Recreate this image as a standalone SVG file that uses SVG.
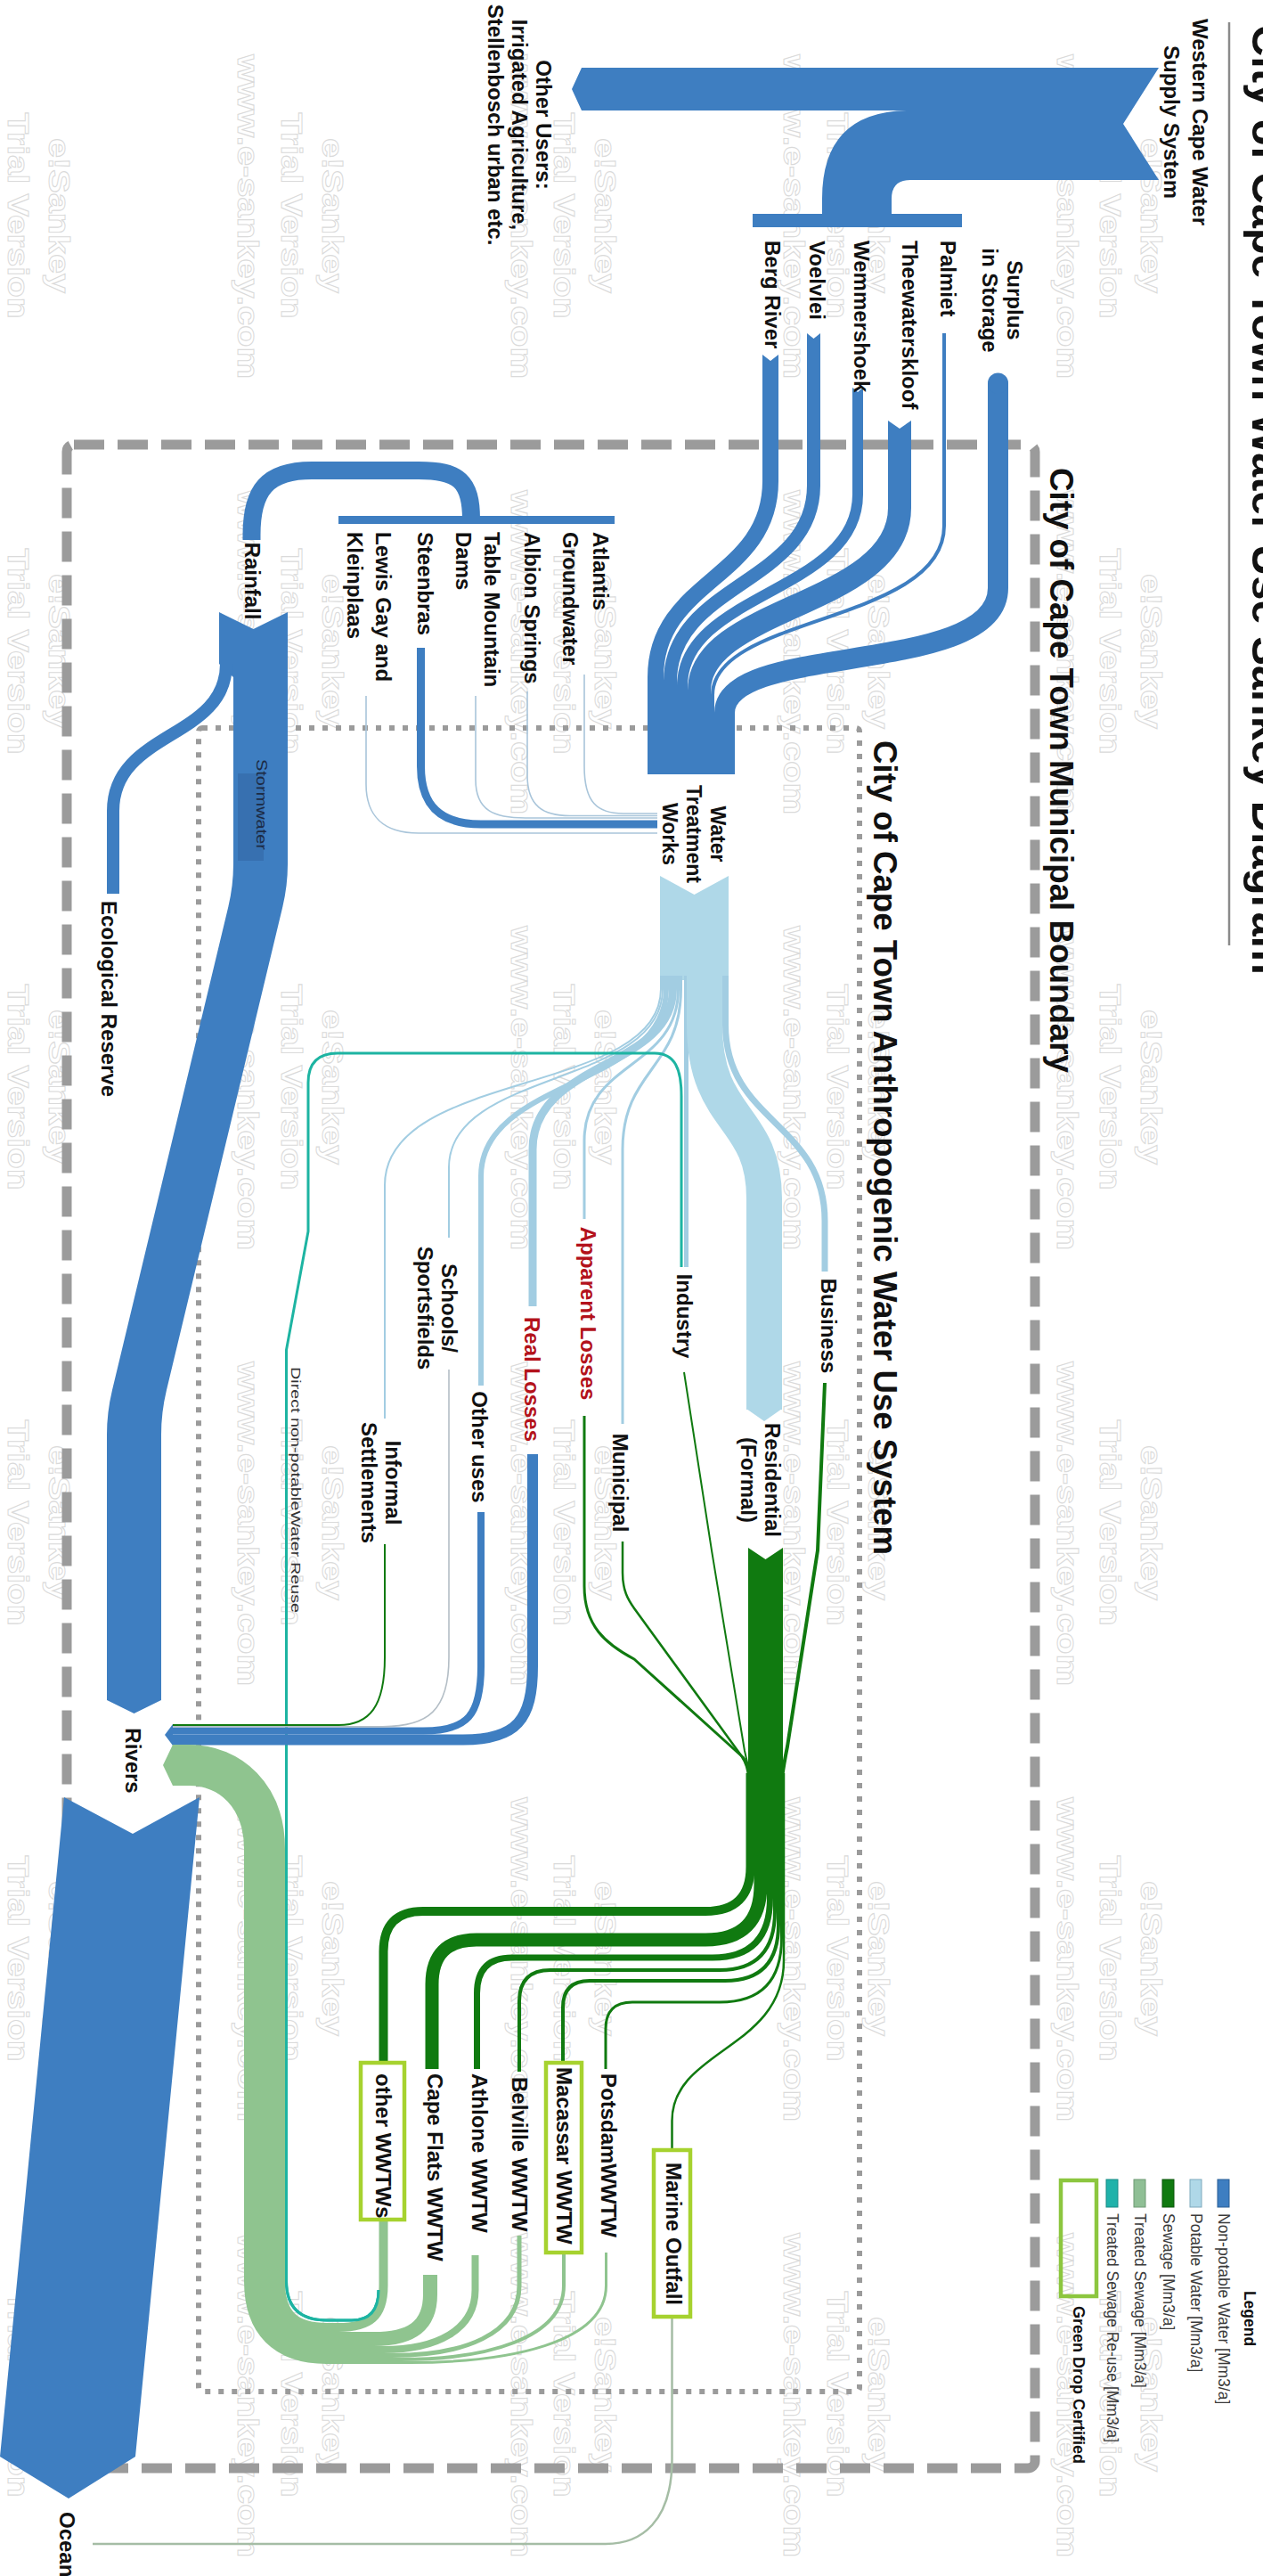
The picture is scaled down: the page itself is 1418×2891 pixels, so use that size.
<svg xmlns="http://www.w3.org/2000/svg" width="1418" height="2891" viewBox="0 0 1418 2891">
<style>
text{font-family:'Liberation Sans',Arial,Helvetica,sans-serif}
.l{font-size:24px;font-weight:bold;fill:#111}
.red{fill:#b3121b}
.wm{font-size:34px;font-weight:bold;fill:#fff;stroke:#dadada;stroke-width:1}
.f{fill:none;stroke-linecap:butt;stroke-linejoin:round}
.np{stroke:#3e7ec1}
.npf{fill:#3e7ec1}
.pot{stroke:#afd8e8}
.pt{stroke:#a2cde2}
.sew{stroke:#107a10}
.tr{stroke:#8fc48f}
.reuse{stroke:#1db4a2}
.loc{stroke:#a9c5da}
.box{fill:#fff;stroke:#a6d22f;stroke-width:4.5}
.leg{font-size:17.5px;fill:#3a3a3a}
.bnd{fill:none;stroke:#9b9b9b}
</style>
<defs>
<g id="wm">
<text class="wm" transform="translate(9 126.5) rotate(90)" textLength="231" lengthAdjust="spacingAndGlyphs">Trial Version</text>
<text class="wm" transform="translate(55 155) rotate(90)" textLength="174" lengthAdjust="spacingAndGlyphs">e!Sankey</text>
<text class="wm" transform="translate(267 61) rotate(90)" textLength="364" lengthAdjust="spacingAndGlyphs">www.e-sankey.com</text>
</g>
</defs>
<rect width="1418" height="2891" fill="#fff"/>

<!-- background watermark tiles -->
<g id="watermark">
<use href="#wm" x="0" y="0"/><use href="#wm" x="306.5" y="0"/><use href="#wm" x="613" y="0"/><use href="#wm" x="919.5" y="0"/><use href="#wm" x="1226" y="0"/>
<use href="#wm" x="0" y="489"/><use href="#wm" x="306.5" y="489"/><use href="#wm" x="613" y="489"/><use href="#wm" x="919.5" y="489"/><use href="#wm" x="1226" y="489"/>
<use href="#wm" x="0" y="978"/><use href="#wm" x="306.5" y="978"/><use href="#wm" x="613" y="978"/><use href="#wm" x="919.5" y="978"/><use href="#wm" x="1226" y="978"/>
<use href="#wm" x="0" y="1467"/><use href="#wm" x="306.5" y="1467"/><use href="#wm" x="613" y="1467"/><use href="#wm" x="919.5" y="1467"/><use href="#wm" x="1226" y="1467"/>
<use href="#wm" x="0" y="1956"/><use href="#wm" x="306.5" y="1956"/><use href="#wm" x="613" y="1956"/><use href="#wm" x="919.5" y="1956"/><use href="#wm" x="1226" y="1956"/>
<use href="#wm" x="0" y="2445"/><use href="#wm" x="306.5" y="2445"/><use href="#wm" x="613" y="2445"/><use href="#wm" x="919.5" y="2445"/><use href="#wm" x="1226" y="2445"/>
</g>

<!-- boundaries -->
<g id="boundaries">
<rect class="bnd" x="75" y="499" width="1087" height="2271" rx="8" stroke-width="11" stroke-dasharray="34 15"/>
<rect class="bnd" x="223" y="817" width="742" height="1867" rx="4" stroke-width="6" stroke-dasharray="6 9"/>
<text class="l" style="font-size:36px" transform="translate(1179 525) rotate(90)" textLength="679" lengthAdjust="spacingAndGlyphs">City of Cape Town Municipal Boundary</text>
<text class="l" style="font-size:36px" transform="translate(981 831) rotate(90)" textLength="914" lengthAdjust="spacingAndGlyphs">City of Cape Town Anthropogenic Water Use System</text>
</g>

<!-- title -->
<g id="title">
<text class="l" style="font-size:48px" transform="translate(1406 28) rotate(90)" textLength="1066" lengthAdjust="spacingAndGlyphs">City of Cape Town Water Use Sankey Diagram</text>
<line x1="1380" y1="25" x2="1380" y2="1061" stroke="#8a8a8a" stroke-width="2.5"/>
</g>

<g id="connectors">
<!-- bulk supply -->
<path class="npf" d="M1301 76 L653 76 L642 100 L653 124 L1022 124 Q923 124 923 223 L923 248 L1001 248 L1001 223 Q1001 202 1022 202 L1301 202 L1261 139 Z"/>
<!-- dams to treatment works -->
<path class="f np" stroke-width="18" d="M865 398 V540 C865 650 736 650 736 760 V869"/>
<path class="f np" stroke-width="15" d="M913.5 374 V545 C913.5 655 752.5 655 752.5 765 V869"/>
<path class="f np" stroke-width="12" d="M963 435 V555 C963 665 766 665 766 770 V869"/>
<path class="f np" stroke-width="26" d="M1010 472 V570 C1010 680 785 680 785 775 V869"/>
<path class="f np" stroke-width="4" d="M1060 374 V590 C1060 700 800 690 800 780 V869"/>
<path class="f np" stroke-width="23" d="M1120.5 430 V660 C1120.5 760 813.5 720 813.5 800 V869"/>
<circle class="npf" cx="1120.5" cy="430" r="11.5"/>
<path fill="#fff" d="M856 398 L865 405 L874 398 Z M906 374 L913.5 380 L921 374 Z M957 435 L963 440 L969 435 Z M997 472 L1010 481 L1023 472 Z"/>
<!-- local sources -->
<path class="f np" stroke-width="20" d="M529 583 C529 540 515 528 470 528 H350 C300 528 282.5 550 282.5 600 V606"/>
<path class="f np" stroke-width="9" d="M472.5 727 V860 C472.5 905 495 925 540 925 H738"/>
<path class="f loc" stroke-width="1.6" d="M656 757 V860 C656 900 670 913 700 913 H738"/>
<path class="f loc" stroke-width="1.6" d="M592 776 V870 C592 905 610 915.5 640 915.5 H738"/>
<path class="f loc" stroke-width="1.6" d="M534 781 V875 C534 910 555 918 590 918 H738"/>
<path class="f loc" stroke-width="1.6" d="M411 781 V880 C411 915 430 935 470 935 H738"/>
<!-- rainfall / stormwater -->
<path class="npf" d="M246 687 L284.5 706 L323 687 L323 970 Q323 994 317 1019 L187 1560 Q181 1585 181 1610 L181 1908 L150.5 1923 L120 1908 L120 1610 Q120 1585 126 1560 L256 1019 Q262 994 262 970 L262 760 L246 745 Z"/>
<path class="f np" stroke-width="14" d="M254 700 V745 C254 830 127 820 127 910 V1003"/>
<rect x="267" y="868" width="29" height="98" fill="#3770b0"/>
<text transform="translate(288 903) rotate(90)" text-anchor="middle" style="font-size:16px;fill:#1c2b44" textLength="102" lengthAdjust="spacingAndGlyphs">Stormwater</text>
<!-- potable distribution -->
<path fill="#afd8e8" d="M741 983 L779.5 1004 L818 983 L818 1100 L741 1100 Z"/>
<path class="f pt" stroke-width="2" d="M742 1095 V1110 C742 1230 432 1200 432 1330 V1592"/>
<path class="f pt" stroke-width="2" d="M744 1095 V1110 C744 1220 504 1200 504 1310 V1389"/>
<path class="f pt" stroke-width="6" d="M748 1095 V1110 C748 1220 540 1210 540 1320 V1555"/>
<path class="f pt" stroke-width="9" d="M755.5 1095 V1110 C755.5 1200 598 1190 598 1290 V1466"/>
<path class="f pt" stroke-width="3" d="M761.5 1095 V1110 C761.5 1200 656 1190 656 1280 V1368"/>
<path class="f pt" stroke-width="3" d="M764.5 1095 V1110 C764.5 1200 699 1200 699 1290 V1598"/>
<path class="f pt" stroke-width="5" d="M770.5 1095 V1422"/>
<path class="f pot" stroke-width="40" d="M791 1095 V1150 C791 1260 858 1250 858 1345 V1582"/>
<path fill="#afd8e8" d="M838 1581 L858 1595 L878 1581 Z"/>
<path class="f pt" stroke-width="7" d="M814.5 1095 V1150 C814.5 1260 926 1260 926 1370 V1427"/>
<!-- direct non-potable reuse -->
<path class="f reuse" stroke-width="3" d="M425 2570 Q425 2604 395 2604 H367 Q321.5 2604 321.5 2560 V1515 L346 1382 V1215 Q346 1182 379 1182 H735 C758 1182 765 1200 765 1230 V1422"/>
<text transform="translate(327 1534) rotate(90)" style="font-size:15px;fill:#333" textLength="276" lengthAdjust="spacingAndGlyphs">Direct non-potableWater Reuse</text>
<!-- losses and other uses to rivers -->
<path class="f np" stroke-width="12" d="M598 1632 V1870 C598 1930 580 1952.5 520 1952.5 H194"/>
<path class="f np" stroke-width="8" d="M540 1697 V1870 C540 1925 525 1942.5 475 1942.5 H194"/>
<path class="f" stroke="#b4bec6" stroke-width="1.6" d="M504 1537 V1860 C504 1920 480 1937.7 430 1937.7 H194"/>
<path class="f sew" stroke-width="2" d="M432 1733 V1860 C432 1915 415 1936 380 1936 H194"/>
<path class="npf" d="M194 1935 L185 1947 L194 1959 Z"/>
<!-- sewage collection -->
<path class="f sew" stroke-width="4" d="M926 1552 L918 1740 L884 1960 Q880 1980 878 1995"/>
<path class="f sew" stroke-width="2" d="M768 1540 L799 1740 L836 1965 Q840 1980 842 1995"/>
<path class="f sew" stroke-width="2.5" d="M699 1730 V1765 C699 1785 705 1795 712 1805 L832 1970 Q840 1982 840 1995"/>
<path class="f sew" stroke-width="3" d="M656 1589 V1780 C656 1825 680 1845 712 1862 L834 1972 Q842 1982 842 1995"/>
<path fill="#107a10" d="M840 1737 L859.5 1750 L879 1737 L879 2000 L840 2000 Z"/>
<path class="f sew" stroke-width="10" d="M842.5 1990 V2095 Q842.5 2145 792 2145 H475 Q430.5 2145 430.5 2190 V2315"/>
<path class="f sew" stroke-width="15" d="M854 1990 V2115 Q854 2177 792 2177 H535 Q485 2177 485 2227 V2322"/>
<path class="f sew" stroke-width="7" d="M864.5 1990 V2130 Q864.5 2197 800 2197 H575 Q535.5 2197 535.5 2237 V2322"/>
<path class="f sew" stroke-width="4" d="M870 1990 V2145 Q870 2211 808 2211 H618 Q583 2211 583 2246 V2325"/>
<path class="f sew" stroke-width="4" d="M874 1990 V2160 Q874 2223 814 2223 H662 Q632 2223 632 2253 V2315"/>
<path class="f sew" stroke-width="3" d="M877.5 1990 V2175 Q877.5 2247 808 2247 H710 Q680 2247 680 2277 V2322"/>
<path class="f sew" stroke-width="2.5" d="M880 1990 V2200 C880 2300 754.5 2300 754.5 2380 V2413"/>
<!-- treated effluent back to rivers -->
<path class="f tr" stroke-width="46" d="M194 1981 H212 C258 1981 297 2015 297 2075 V2560 Q297 2630 367 2630 H372"/>
<path fill="#8fc48f" d="M194 1958 L183 1981 L194 2004 Z"/>
<path class="f tr" stroke-width="10" d="M430.5 2491 V2565 C430.5 2600 415 2612 380 2612 H365"/>
<path class="f tr" stroke-width="16" d="M483 2553 V2575 C483 2612 460 2625 420 2625 H365"/>
<path class="f tr" stroke-width="8" d="M533.5 2531 V2570 C533.5 2615 490 2637 430 2637 H365"/>
<path class="f tr" stroke-width="5" d="M583 2509 V2565 C583 2620 520 2643.5 440 2643.5 H365"/>
<path class="f tr" stroke-width="4" d="M633 2528 V2565 C633 2625 545 2648 450 2648 H365"/>
<path class="f tr" stroke-width="3" d="M680.5 2528 V2565 C680.5 2630 570 2651.5 460 2651.5 H365"/>
<path class="f reuse" stroke-width="3" d="M425 2570 Q425 2604 395 2604 H367 Q321.5 2604 321.5 2560 V2080"/>
<!-- marine outfall to ocean -->
<path class="f" stroke="#a5bda5" stroke-width="2.5" d="M754.5 2600 V2760 C754.5 2830 720 2855 680 2855 H104"/>
<!-- rivers to ocean -->
<path class="npf" d="M72 2017 L149 2058 L224 2017 L152 2757 L77 2804 L0 2757 Z"/>
</g>

<g id="node-wcwss">
<text class="l" transform="translate(1339 137) rotate(90)" text-anchor="middle"><tspan x="0">Western Cape Water</tspan><tspan x="0" dy="32">Supply System</tspan></text>
<rect class="npf" x="845" y="240" width="235" height="15"/>
</g>
<g id="node-other-users">
<text class="l" transform="translate(602 140) rotate(90)" text-anchor="middle"><tspan x="0">Other Users:</tspan><tspan x="0" dy="27">Irrigated Agriculture,</tspan><tspan x="0" dy="27">Stellenbosch urban etc.</tspan></text>
</g>
<g id="node-berg"><text class="l" transform="translate(859 270) rotate(90)">Berg River</text></g>
<g id="node-voelvlei"><text class="l" transform="translate(909 270) rotate(90)">Voelvlei</text></g>
<g id="node-wemmershoek"><text class="l" transform="translate(959 270) rotate(90)">Wemmershoek</text></g>
<g id="node-theewaterskloof"><text class="l" transform="translate(1013 270) rotate(90)">Theewaterskloof</text></g>
<g id="node-palmiet"><text class="l" transform="translate(1056 270) rotate(90)">Palmiet</text></g>
<g id="node-surplus"><text class="l" transform="translate(1131 337) rotate(90)" text-anchor="middle"><tspan x="0">Surplus</tspan><tspan x="0" dy="28">in Storage</tspan></text></g>

<g id="node-local-sources">
<rect class="npf" x="380" y="579" width="310" height="9"/>
</g>
<g id="node-atlantis"><text class="l" transform="translate(666 597) rotate(90)"><tspan x="0">Atlantis</tspan><tspan x="0" dy="34">Groundwater</tspan></text></g>
<g id="node-albion"><text class="l" transform="translate(589 597) rotate(90)">Albion Springs</text></g>
<g id="node-table-mountain"><text class="l" transform="translate(544 597) rotate(90)"><tspan x="0">Table Mountain</tspan><tspan x="0" dy="32">Dams</tspan></text></g>
<g id="node-steenbras"><text class="l" transform="translate(469 597) rotate(90)">Steenbras</text></g>
<g id="node-lewis-gay"><text class="l" transform="translate(422 597) rotate(90)"><tspan x="0">Lewis Gay and</tspan><tspan x="0" dy="32">Kleinplaas</tspan></text></g>

<g id="node-rainfall"><text class="l" transform="translate(275 652) rotate(90)" text-anchor="middle">Rainfall</text></g>
<g id="node-ecological"><text class="l" transform="translate(114 1011) rotate(90)">Ecological Reserve</text></g>
<g id="node-wtw"><text class="l" style="font-size:23px" transform="translate(798 936) rotate(90)" text-anchor="middle"><tspan x="0">Water</tspan><tspan x="0" dy="27">Treatment</tspan><tspan x="0" dy="27">Works</tspan></text></g>

<g id="node-residential"><text class="l" transform="translate(859 1661) rotate(90)" text-anchor="middle"><tspan x="0">Residential</tspan><tspan x="0" dy="27">(Formal)</tspan></text></g>
<g id="node-business"><text class="l" transform="translate(922 1488) rotate(90)" text-anchor="middle">Business</text></g>
<g id="node-industry"><text class="l" transform="translate(760 1477) rotate(90)" text-anchor="middle">Industry</text></g>
<g id="node-municipal"><text class="l" transform="translate(688 1664) rotate(90)" text-anchor="middle">Municipal</text></g>
<g id="node-apparent-losses"><text class="l red" transform="translate(652 1474) rotate(90)" text-anchor="middle">Apparent Losses</text></g>
<g id="node-real-losses"><text class="l red" transform="translate(589 1548) rotate(90)" text-anchor="middle">Real Losses</text></g>
<g id="node-other-uses"><text class="l" transform="translate(530 1624) rotate(90)" text-anchor="middle">Other uses</text></g>
<g id="node-schools"><text class="l" transform="translate(496 1468) rotate(90)" text-anchor="middle"><tspan x="0">Schools/</tspan><tspan x="0" dy="27">Sportsfields</tspan></text></g>
<g id="node-informal"><text class="l" transform="translate(433 1664) rotate(90)" text-anchor="middle"><tspan x="0">Informal</tspan><tspan x="0" dy="27">Settlements</tspan></text></g>

<g id="node-rivers"><text class="l" transform="translate(141 1976) rotate(90)" text-anchor="middle">Rivers</text></g>
<g id="node-ocean"><text class="l" transform="translate(67 2819) rotate(90)">Ocean</text></g>

<g id="node-potsdam"><text class="l" transform="translate(675 2327) rotate(90)">PotsdamWWTW</text></g>
<g id="node-macassar"><rect class="box" x="613" y="2315" width="40" height="213"/><text class="l" transform="translate(625 2320) rotate(90)">Macassar WWTW</text></g>
<g id="node-belville"><text class="l" transform="translate(575 2331) rotate(90)">Belville WWTW</text></g>
<g id="node-athlone"><text class="l" transform="translate(530 2327) rotate(90)">Athlone WWTW</text></g>
<g id="node-cape-flats"><text class="l" transform="translate(480 2327) rotate(90)">Cape Flats WWTW</text></g>
<g id="node-other-wwtw"><rect class="box" x="405" y="2315" width="49" height="176"/><text class="l" transform="translate(422 2327) rotate(90)">other WWTWs</text></g>
<g id="node-marine-outfall"><rect class="box" x="734" y="2413" width="41" height="187"/><text class="l" transform="translate(748 2507) rotate(90)" text-anchor="middle">Marine Outfall</text></g>

<g id="legend">
<text class="l" style="font-size:17.5px" transform="translate(1397 2602) rotate(90)" text-anchor="middle">Legend</text>
<rect x="1367" y="2446" width="13" height="31" fill="#3e7ec1" stroke="#2a5f95"/>
<rect x="1336" y="2446" width="13" height="31" fill="#afd8e8" stroke="#7fa9bd"/>
<rect x="1305" y="2446" width="13" height="31" fill="#107a10" stroke="#0a550a"/>
<rect x="1273" y="2446" width="13" height="31" fill="#8fbf95" stroke="#6f9a75"/>
<rect x="1242" y="2446" width="13" height="31" fill="#20b2aa" stroke="#178a84"/>
<text class="leg" transform="translate(1368 2484) rotate(90)">Non-potable Water [Mm3/a]</text>
<text class="leg" transform="translate(1337 2484) rotate(90)">Potable Water [Mm3/a]</text>
<text class="leg" transform="translate(1306 2484) rotate(90)">Sewage [Mm3/a]</text>
<text class="leg" transform="translate(1274 2484) rotate(90)">Treated Sewage [Mm3/a]</text>
<text class="leg" transform="translate(1243 2484) rotate(90)">Treated Sewage Re-use [Mm3/a]</text>
<rect x="1191" y="2447" width="40" height="130" fill="none" stroke="#8cc63f" stroke-width="4.5"/>
<text class="l" style="font-size:18px" transform="translate(1205 2588) rotate(90)">Green Drop Certified</text>
</g>
</svg>
